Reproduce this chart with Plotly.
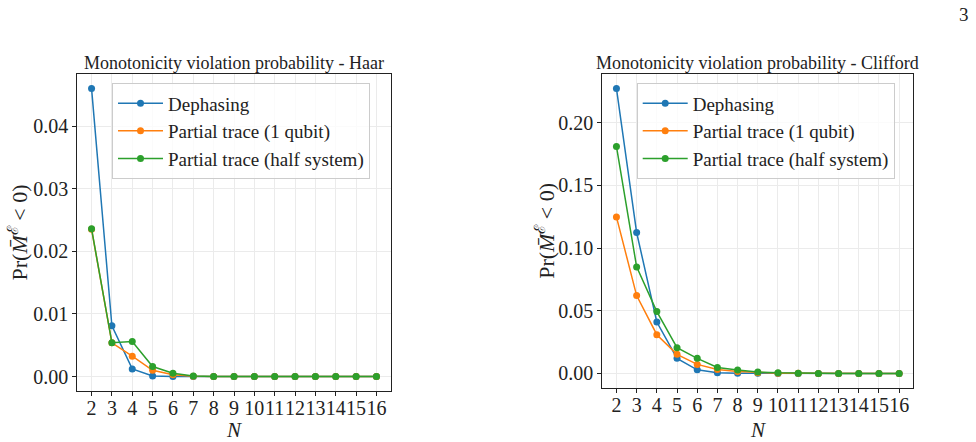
import plotly.graph_objects as go

N = list(range(2, 17))

haar_dephasing = [0.0460, 0.0081, 0.00123, 0.0001, 0.00003, 0, 0, 0, 0, 0, 0, 0, 0, 0, 0]
haar_pt1 = [0.0235, 0.0054, 0.00325, 0.00100, 0.00030, 0.00005, 0, 0, 0, 0, 0, 0, 0, 0, 0]
haar_pthalf = [0.0236, 0.0054, 0.00559, 0.00160, 0.00053, 0.0001, 0, 0, 0, 0, 0, 0, 0, 0, 0]

cliff_dephasing = [0.2274, 0.1124, 0.0410, 0.0120, 0.0029, 0.0005, 0.0002, 0.0001, 0, 0, 0, 0, 0, 0, 0]
cliff_pt1 = [0.1249, 0.0621, 0.0309, 0.0152, 0.0072, 0.0032, 0.0016, 0.0006, 0.0002, 0.0001, 0, 0, 0, 0, 0]
cliff_pthalf = [0.1811, 0.0850, 0.0493, 0.0205, 0.0120, 0.0048, 0.0027, 0.0011, 0.0005, 0.0002, 0, 0, 0, 0, 0]

series_names = ["Dephasing", "Partial trace (1 qubit)", "Partial trace (half system)"]
colors = ["#1f77b4", "#ff7f0e", "#2ca02c"]
titles = ["Monotonicity violation probability - Haar", "Monotonicity violation probability - Clifford"]

FONT = "Liberation Serif"
W, H = 976, 442

fig = go.Figure()

for i, ys in enumerate([haar_dephasing, haar_pt1, haar_pthalf]):
    fig.add_trace(go.Scatter(x=N, y=ys, mode="lines+markers", name=series_names[i],
                             line=dict(color=colors[i], width=1.5),
                             marker=dict(color=colors[i], size=7),
                             xaxis="x", yaxis="y", legend="legend"))
for i, ys in enumerate([cliff_dephasing, cliff_pt1, cliff_pthalf]):
    fig.add_trace(go.Scatter(x=N, y=ys, mode="lines+markers", name=series_names[i],
                             line=dict(color=colors[i], width=1.5),
                             marker=dict(color=colors[i], size=7),
                             xaxis="x2", yaxis="y2", legend="legend2"))

# pixel geometry of the axes boxes
L1 = (77.3, 390.7, 74, 391)
L2 = (602.3, 913.3, 74, 387.7)

def dom(box):
    x0, x1, y0, y1 = box
    return [x0 / W, x1 / W], [1 - y1 / H, 1 - y0 / H]

xd1, yd1 = dom(L1)
xd2, yd2 = dom(L2)

common_x = dict(range=[1.3, 16.7], dtick=1, tick0=2, showgrid=True, gridcolor="#ebebeb", gridwidth=1,
                showline=True, linecolor="#222", linewidth=1, mirror=True, ticks="outside",
                ticklen=4, tickcolor="#222", zeroline=False, tickangle=0, ticklabelstandoff=-5,
                tickfont=dict(family=FONT, size=20, color="#222"))
common_y = dict(showgrid=True, gridcolor="#ebebeb", gridwidth=1, showline=True, linecolor="#222",
                linewidth=1, mirror=True, ticks="outside", ticklen=4, tickcolor="#222",
                zeroline=False, tickformat=".2f",
                tickfont=dict(family=FONT, size=20, color="#222"))

leg_common = dict(yanchor="top", xanchor="left", bgcolor="rgba(255,255,255,0.8)",
                  bordercolor="#cccccc", borderwidth=1, itemwidth=45,
                  font=dict(family=FONT, size=19, color="#222"))

fig.update_layout(
    width=W, height=H,
    margin=dict(l=0, r=0, t=0, b=0),
    plot_bgcolor="white", paper_bgcolor="white",
    xaxis=dict(domain=xd1, anchor="y", **common_x),
    yaxis=dict(domain=yd1, anchor="x", range=[-0.0023, 0.0483], dtick=0.01, **common_y),
    xaxis2=dict(domain=xd2, anchor="y2", **common_x),
    yaxis2=dict(domain=yd2, anchor="x2", range=[-0.0114, 0.2389], dtick=0.05, **common_y),
    legend=dict(x=112 / W, y=1 - 83.3 / H, **leg_common),
    legend2=dict(x=636.7 / W, y=1 - 83.3 / H, **leg_common),
    showlegend=True,
)

annots = []
for box, t in zip([L1, L2], titles):
    annots.append(dict(text=t, x=(box[0] + box[1]) / 2 / W, y=1 - 62.7 / H, xref="paper", yref="paper",
                       xanchor="center", yanchor="middle", showarrow=False,
                       font=dict(family=FONT, size=18, color="#222")))
    annots.append(dict(text="<i>N</i>", x=(box[0] + box[1]) / 2 / W, y=1 - 430 / H, xref="paper", yref="paper",
                       xanchor="center", yanchor="middle", showarrow=False,
                       font=dict(family=FONT, size=21, color="#222")))
for xc, box in zip([17, 545], [L1, L2]):
    annots.append(dict(text="Pr(<i>M\u0304</i><sup>\u2130</sup> &lt; 0)", x=xc / W, y=1 - (box[2] + box[3]) / 2 / H,
                       xref="paper", yref="paper", xanchor="center", yanchor="middle", showarrow=False,
                       textangle=-90, font=dict(family=FONT, size=22, color="#222")))
annots.append(dict(text="3", x=964 / W, y=1 - 14 / H, xref="paper", yref="paper", xanchor="center",
                   yanchor="middle", showarrow=False, font=dict(family=FONT, size=19, color="#222")))
fig.update_layout(annotations=annots)

fig.write_html("out.html")
